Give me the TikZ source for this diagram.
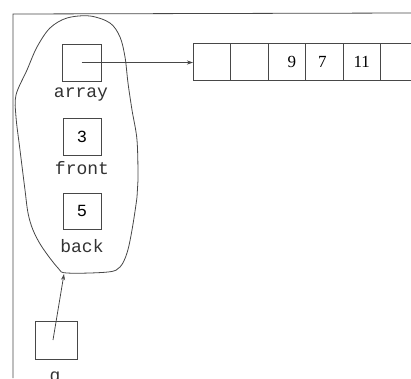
\documentclass[tikz,border=0pt]{standalone}
\usepackage{fontspec}
\setmonofont{Liberation Mono}
\newfontfamily\cellfont{Liberation Serif}
\usetikzlibrary{arrows.meta}
\begin{document}
\begin{tikzpicture}[x=1pt,y=-1pt,
  ink/.style={draw=black!72,line width=0.8pt},
  slot/.style={ink,rectangle,minimum width=38pt,minimum height=37pt,inner sep=0pt,
    font=\ttfamily\fontsize{17}{17}\selectfont},
  cell/.style={ink,rectangle,minimum width=37.5pt,minimum height=37pt,inner sep=0pt,outer sep=0pt,
    font=\cellfont\fontsize{17}{17}\selectfont},
  tag/.style={anchor=base,inner sep=0pt,font=\ttfamily\fontsize{18}{18}\selectfont,text=black!80},
  link/.style={ink,-{Stealth[length=6pt,width=4pt]}}]
\useasboundingbox (0,0) rectangle (411,378);
\clip (0,0) rectangle (411,378);

% frame edges
\draw[ink] (13,378) -- (13,14) -- (411,13);

% fields of the queue object
\node[slot,minimum width=39pt] (arr) at (81.5,62.5) {};
\node[tag] (arrlbl) at (81,97) {array};
\node[slot] (fr) at (82,136.5) {3};
\node[tag] (frlbl) at (82,174) {front};
\node[slot,minimum height=36pt] (bk) at (82,211) {5};
\node[tag] (bklbl) at (82,252) {back};

% outline around the object
\draw[ink] plot[smooth cycle,tension=0.55] coordinates {
  (90,16) (110,23) (120,37) (125,57) (128,83) (132,110) (137,140) (138,180)
  (137,197) (132,230) (127,253) (120,267) (108,272) (67,273) (58,268)
  (42,247) (33,230) (28,213) (25,190) (20,150) (16,117) (16,95) (27,70)
  (37,47) (50,28) (67,18)};
\coordinate (objbot) at (64,274);

% the backing array
\node[cell,anchor=west] (c1) at (193,61.5) {};
\node[cell,anchor=west] (c2) at (c1.east) {};
\node[cell,anchor=west] (c3) at (c2.east) {\hspace*{10pt}9};
\node[cell,anchor=west] (c4) at (c3.east) {7\hspace*{4pt}};
\node[cell,anchor=west] (c5) at (c4.east) {11};
\node[cell,anchor=west] (c6) at (c5.east) {};

% variable q
\node[slot,minimum width=42pt,minimum height=38pt] (q) at (56,340) {};
\node[tag] (qlbl) at (55,381) {q};

% references
\draw[link] (arr.center) -- (arr.center -| c1.west);
\draw[link] ([xshift=-3pt]q.center) -- (objbot);
\end{tikzpicture}
\end{document}
